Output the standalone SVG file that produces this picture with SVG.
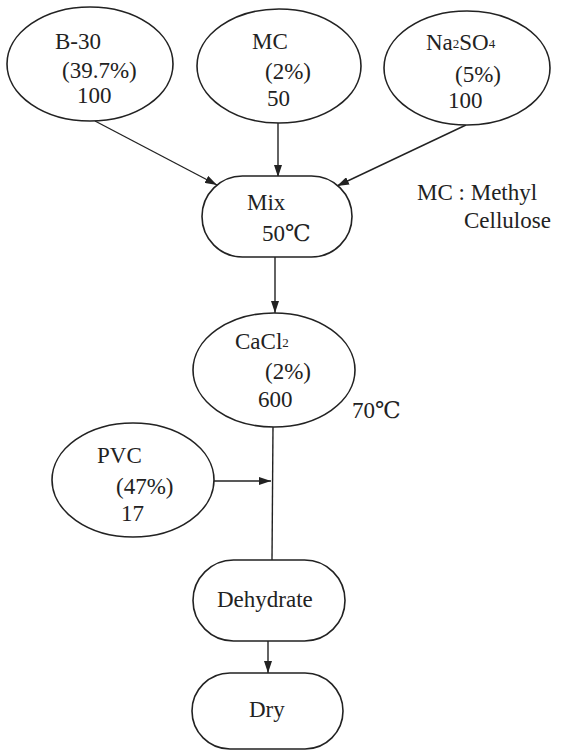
<svg xmlns="http://www.w3.org/2000/svg" width="569" height="752" viewBox="0 0 569 752">
<defs>
<marker id="arr" viewBox="0 0 12 8" refX="12" refY="4" markerWidth="12" markerHeight="8" markerUnits="userSpaceOnUse" orient="auto">
<path d="M0,0 L12,4 L0,8 Z" fill="#222"/>
</marker>
</defs>
<style>
.sh{fill:#fff;stroke:#222;stroke-width:1.6}
.ln{fill:none;stroke:#222;stroke-width:1.4}
text{font-family:"Liberation Serif","DejaVu Serif",serif;font-size:23px;fill:#222}
.sub{font-size:13px}
</style>
<rect width="569" height="752" fill="#fff"/>
<g id="connectors">
<line class="ln" x1="95" y1="121" x2="217" y2="185" marker-end="url(#arr)"/>
<line class="ln" x1="278" y1="123" x2="278" y2="177" marker-end="url(#arr)"/>
<line class="ln" x1="466" y1="125" x2="337" y2="186" marker-end="url(#arr)"/>
<line class="ln" x1="275" y1="257" x2="275" y2="313" marker-end="url(#arr)"/>
<line class="ln" x1="273" y1="426" x2="272" y2="560"/>
<line class="ln" x1="214" y1="481" x2="271" y2="481" marker-end="url(#arr)"/>
<line class="ln" x1="268" y1="641" x2="268" y2="673" marker-end="url(#arr)"/>
</g>
<g id="b30">
<ellipse class="sh" cx="90" cy="64" rx="83" ry="57"/>
<text x="55" y="49">B-30</text>
<text x="62" y="78">(39.7%)</text>
<text x="77" y="103">100</text>
</g>
<g id="mc">
<ellipse class="sh" cx="279" cy="66" rx="82" ry="57"/>
<text x="252" y="49">MC</text>
<text x="265" y="79">(2%)</text>
<text x="267" y="106">50</text>
</g>
<g id="na2so4">
<ellipse class="sh" cx="467" cy="68" rx="83" ry="57"/>
<text x="426" y="50">Na<tspan class="sub" dy="-2">2</tspan><tspan dy="2">SO</tspan><tspan class="sub" dy="-2">4</tspan></text>
<text x="455" y="82">(5%)</text>
<text x="448" y="108">100</text>
</g>
<g id="mix">
<rect class="sh" x="202" y="176" width="150" height="81" rx="40.5"/>
<text x="247" y="210">Mix</text>
<text x="262" y="241">50℃</text>
</g>
<g id="legend">
<text x="417" y="200">MC : Methyl</text>
<text x="464" y="228">Cellulose</text>
</g>
<g id="cacl2">
<ellipse class="sh" cx="274" cy="370" rx="81" ry="57"/>
<text x="235" y="349">CaCl<tspan class="sub" dy="-2">2</tspan></text>
<text x="265" y="379">(2%)</text>
<text x="258" y="407">600</text>
</g>
<g id="temp70">
<text x="352" y="418">70℃</text>
</g>
<g id="pvc">
<ellipse class="sh" cx="133" cy="480" rx="81" ry="57"/>
<text x="97" y="463">PVC</text>
<text x="116" y="494">(47%)</text>
<text x="121" y="521">17</text>
</g>
<g id="dehydrate">
<rect class="sh" x="193" y="560" width="152" height="81" rx="40.5"/>
<text x="217" y="607">Dehydrate</text>
</g>
<g id="dry">
<rect class="sh" x="192" y="673" width="151" height="76" rx="38"/>
<text x="249" y="717">Dry</text>
</g>
</svg>
